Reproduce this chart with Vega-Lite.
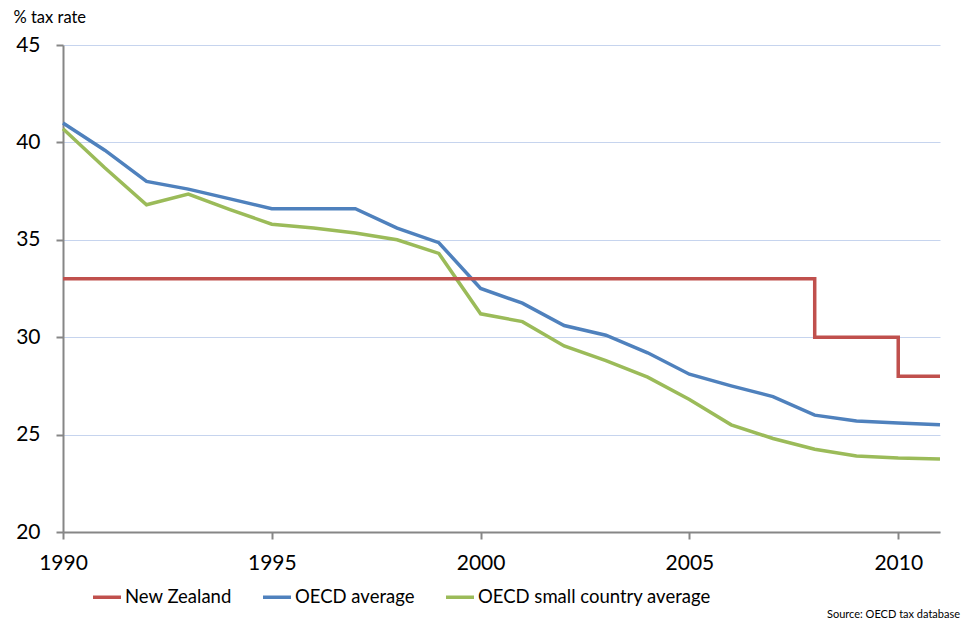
{
  "$schema": "https://vega.github.io/schema/vega-lite/v6.json",
  "width": 877,
  "height": 487,
  "autosize": {"type": "none"},
  "padding": {"left": 63, "top": 45, "right": 22, "bottom": 89},
  "background": "white",
  "config": {
    "font": "Lato",
    "view": {"stroke": null},
    "axis": {"labelFont": "Lato", "titleFont": "Lato"}
  },
  "title": {
    "text": "Source: OECD tax database",
    "orient": "bottom",
    "anchor": "end",
    "frame": "group",
    "fontSize": 11,
    "fontWeight": "normal",
    "font": "Lato",
    "color": "#000000",
    "offset": 2,
    "dx": 20
  },
  "data": {
    "values": [
      {"year": 1990, "series": "New Zealand", "rate": 33},
      {"year": 1991, "series": "New Zealand", "rate": 33},
      {"year": 1992, "series": "New Zealand", "rate": 33},
      {"year": 1993, "series": "New Zealand", "rate": 33},
      {"year": 1994, "series": "New Zealand", "rate": 33},
      {"year": 1995, "series": "New Zealand", "rate": 33},
      {"year": 1996, "series": "New Zealand", "rate": 33},
      {"year": 1997, "series": "New Zealand", "rate": 33},
      {"year": 1998, "series": "New Zealand", "rate": 33},
      {"year": 1999, "series": "New Zealand", "rate": 33},
      {"year": 2000, "series": "New Zealand", "rate": 33},
      {"year": 2001, "series": "New Zealand", "rate": 33},
      {"year": 2002, "series": "New Zealand", "rate": 33},
      {"year": 2003, "series": "New Zealand", "rate": 33},
      {"year": 2004, "series": "New Zealand", "rate": 33},
      {"year": 2005, "series": "New Zealand", "rate": 33},
      {"year": 2006, "series": "New Zealand", "rate": 33},
      {"year": 2007, "series": "New Zealand", "rate": 33},
      {"year": 2008, "series": "New Zealand", "rate": 30},
      {"year": 2009, "series": "New Zealand", "rate": 30},
      {"year": 2010, "series": "New Zealand", "rate": 28},
      {"year": 2011, "series": "New Zealand", "rate": 28},
      {"year": 1990, "series": "OECD average", "rate": 41.0},
      {"year": 1991, "series": "OECD average", "rate": 39.6},
      {"year": 1992, "series": "OECD average", "rate": 38.0},
      {"year": 1993, "series": "OECD average", "rate": 37.6},
      {"year": 1994, "series": "OECD average", "rate": 37.1},
      {"year": 1995, "series": "OECD average", "rate": 36.6},
      {"year": 1996, "series": "OECD average", "rate": 36.6},
      {"year": 1997, "series": "OECD average", "rate": 36.6},
      {"year": 1998, "series": "OECD average", "rate": 35.6},
      {"year": 1999, "series": "OECD average", "rate": 34.85},
      {"year": 2000, "series": "OECD average", "rate": 32.5},
      {"year": 2001, "series": "OECD average", "rate": 31.75},
      {"year": 2002, "series": "OECD average", "rate": 30.6},
      {"year": 2003, "series": "OECD average", "rate": 30.1},
      {"year": 2004, "series": "OECD average", "rate": 29.2},
      {"year": 2005, "series": "OECD average", "rate": 28.1},
      {"year": 2006, "series": "OECD average", "rate": 27.5},
      {"year": 2007, "series": "OECD average", "rate": 26.95},
      {"year": 2008, "series": "OECD average", "rate": 26.0},
      {"year": 2009, "series": "OECD average", "rate": 25.7},
      {"year": 2010, "series": "OECD average", "rate": 25.6},
      {"year": 2011, "series": "OECD average", "rate": 25.5},
      {"year": 1990, "series": "OECD small country average", "rate": 40.7},
      {"year": 1991, "series": "OECD small country average", "rate": 38.7},
      {"year": 1992, "series": "OECD small country average", "rate": 36.8},
      {"year": 1993, "series": "OECD small country average", "rate": 37.35},
      {"year": 1994, "series": "OECD small country average", "rate": 36.55},
      {"year": 1995, "series": "OECD small country average", "rate": 35.8},
      {"year": 1996, "series": "OECD small country average", "rate": 35.6},
      {"year": 1997, "series": "OECD small country average", "rate": 35.35},
      {"year": 1998, "series": "OECD small country average", "rate": 35.0},
      {"year": 1999, "series": "OECD small country average", "rate": 34.3},
      {"year": 2000, "series": "OECD small country average", "rate": 31.2},
      {"year": 2001, "series": "OECD small country average", "rate": 30.8},
      {"year": 2002, "series": "OECD small country average", "rate": 29.55},
      {"year": 2003, "series": "OECD small country average", "rate": 28.8},
      {"year": 2004, "series": "OECD small country average", "rate": 27.95},
      {"year": 2005, "series": "OECD small country average", "rate": 26.8},
      {"year": 2006, "series": "OECD small country average", "rate": 25.5},
      {"year": 2007, "series": "OECD small country average", "rate": 24.8},
      {"year": 2008, "series": "OECD small country average", "rate": 24.25},
      {"year": 2009, "series": "OECD small country average", "rate": 23.9},
      {"year": 2010, "series": "OECD small country average", "rate": 23.8},
      {"year": 2011, "series": "OECD small country average", "rate": 23.75}
    ]
  },
  "encoding": {
    "x": {
      "field": "year",
      "type": "quantitative",
      "scale": {"domain": [1990, 2011], "nice": false, "zero": false},
      "axis": {
        "title": null,
        "values": [1990, 1995, 2000, 2005, 2010],
        "format": "d",
        "grid": false,
        "domainColor": "#868686",
        "domainWidth": 2,
        "tickColor": "#868686",
        "tickWidth": 2,
        "tickSize": 7,
        "labelFontSize": 21,
        "labelColor": "#000000",
        "labelPadding": 13,
        "labelFlush": false
      }
    },
    "y": {
      "field": "rate",
      "type": "quantitative",
      "scale": {"domain": [20, 45], "nice": false, "zero": false},
      "axis": {
        "title": "% tax rate",
        "titleAngle": 0,
        "titleAlign": "left",
        "titleBaseline": "middle",
        "titleX": -50,
        "titleY": -28,
        "titleFontSize": 16.5,
        "titleFontWeight": "normal",
        "titleColor": "#000000",
        "values": [20, 25, 30, 35, 40, 45],
        "grid": true,
        "gridColor": "#c6d4ee",
        "gridWidth": 1,
        "domainColor": "#868686",
        "domainWidth": 2,
        "tickColor": "#868686",
        "tickWidth": 2,
        "tickSize": 7,
        "labelFontSize": 21,
        "labelColor": "#000000",
        "labelPadding": 16
      }
    },
    "color": {
      "field": "series",
      "type": "nominal",
      "scale": {
        "domain": ["New Zealand", "OECD average", "OECD small country average"],
        "range": ["#c0504d", "#4f81bd", "#9bbb59"]
      },
      "legend": {
        "title": null,
        "orient": "none",
        "direction": "horizontal",
        "legendX": 28,
        "legendY": 536,
        "symbolType": "stroke",
        "symbolSize": 784,
        "symbolStrokeWidth": 3.5,
        "labelFontSize": 18.5,
        "labelColor": "#000000",
        "labelOffset": 2,
        "columnPadding": 24,
        "labelLimit": 400
      }
    }
  },
  "layer": [
    {
      "transform": [{"filter": "datum.series !== 'New Zealand'"}],
      "mark": {"type": "line", "strokeWidth": 3.5, "strokeCap": "butt"}
    },
    {
      "transform": [{"filter": "datum.series === 'New Zealand'"}],
      "mark": {"type": "line", "strokeWidth": 3.5, "interpolate": "step-after"}
    }
  ]
}
